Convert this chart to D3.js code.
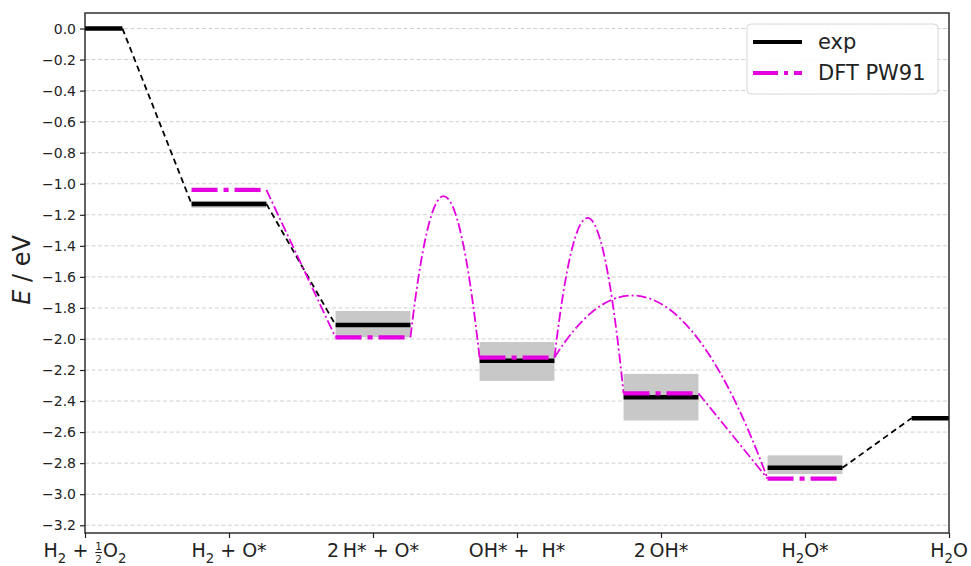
<!DOCTYPE html>
<html>
<head>
<meta charset="utf-8">
<script src="https://cdn.jsdelivr.net/npm/d3@7"></script>
<style>
  html, body { margin: 0; padding: 0; background: #fff; }
  svg { display: block; font-family: "DejaVu Sans", sans-serif; }
</style>
</head>
<body>
<svg id="chart" width="971" height="566"></svg>
<script>
// Reaction stages along the x axis (label parts: plain text, subscripts, fractions)
const stageLabels = [
  [{t: "H"}, {t: "2", k: "sub"}, {t: " + "}, {n: "1", d: "2", k: "frac"}, {t: "O"}, {t: "2", k: "sub"}],
  [{t: "H"}, {t: "2", k: "sub"}, {t: " + O*"}],
  [{t: "2\u2009H* + O*"}],
  [{t: "OH* +  H*"}],
  [{t: "2\u2009OH*"}],
  [{t: "H"}, {t: "2", k: "sub"}, {t: "O*"}],
  [{t: "H"}, {t: "2", k: "sub"}, {t: "O"}]
];
const stageX = [0, 1, 2, 3, 4, 5, 6];

// Experimental energies (eV) and their uncertainty bands
const expEnergy = [0.00, -1.13, -1.91, -2.14, -2.375, -2.83, -2.51];
const expLow    = [null, -1.155, -1.99, -2.27, -2.525, -2.87, null];
const expHigh   = [null, -1.11, -1.82, -2.02, -2.225, -2.75, null];

// DFT (PW91) energies (eV)
const dftEnergy = [null, -1.04, -1.99, -2.12, -2.35, -2.90, null];

// Connections between stages
const expLinks = [[0, 1], [1, 2], [5, 6]];
const dftLinks = [[1, 2], [4, 5]];
// Barriers: start stage, end stage, position and energy of the transition state
const dftBarriers = [
  {from: 2, to: 3, peakX: 2.49, peakE: -1.08},
  {from: 3, to: 4, peakX: 3.49, peakE: -1.22},
  {from: 3, to: 5, peakX: 3.80, peakE: -1.72}
];

const yTickValues = [0.0, -0.2, -0.4, -0.6, -0.8, -1.0, -1.2, -1.4, -1.6, -1.8,
                     -2.0, -2.2, -2.4, -2.6, -2.8, -3.0, -3.2];

const halfWidth = 0.26;

const svg = d3.select("#chart");
const margin = {left: 85, right: 22, top: 13, bottom: 33};
const W = 971, H = 566;
const x = d3.scaleLinear().domain([0, 6]).range([margin.left, W - margin.right]);
const y = d3.scaleLinear().domain([0.1, -3.25]).range([margin.top, H - margin.bottom]);

const plot = svg.append("g");
svg.append("defs").append("clipPath").attr("id", "clip")
  .append("rect").attr("x", x(0)).attr("y", y(0.1)).attr("width", x(6) - x(0)).attr("height", y(-3.25) - y(0.1));

// Horizontal grid
plot.append("g").selectAll("line").data(yTickValues).join("line")
  .attr("x1", x(0)).attr("x2", x(6))
  .attr("y1", d => y(d)).attr("y2", d => y(d))
  .attr("stroke", "#d0d0d0").attr("stroke-width", 1).attr("stroke-dasharray", "4,2.5");

const layer = plot.append("g").attr("clip-path", "url(#clip)");
const lo = i => Math.max(0, stageX[i] - halfWidth);
const hi = i => Math.min(6, stageX[i] + halfWidth);

// Uncertainty bands
layer.append("g").selectAll("rect")
  .data(stageX.map((s, i) => i).filter(i => expLow[i] !== null))
  .join("rect")
  .attr("x", i => x(lo(i))).attr("width", i => x(hi(i)) - x(lo(i)))
  .attr("y", i => y(expHigh[i])).attr("height", i => y(expLow[i]) - y(expHigh[i]))
  .attr("fill", "#c8c8c8");

// Experimental dashed connectors
layer.append("g").selectAll("line").data(expLinks).join("line")
  .attr("x1", d => x(hi(d[0]))).attr("y1", d => y(expEnergy[d[0]]))
  .attr("x2", d => x(lo(d[1]))).attr("y2", d => y(expEnergy[d[1]]))
  .attr("stroke", "#000").attr("stroke-width", 1.8).attr("stroke-dasharray", "6,4");

// DFT connectors
const thinDashDot = "10,3,2,3";
layer.append("g").selectAll("line").data(dftLinks).join("line")
  .attr("x1", d => x(hi(d[0]))).attr("y1", d => y(dftEnergy[d[0]]))
  .attr("x2", d => x(lo(d[1]))).attr("y2", d => y(dftEnergy[d[1]]))
  .attr("stroke", "#e400e0").attr("stroke-width", 1.8).attr("stroke-dasharray", thinDashDot);

// DFT barriers drawn as two half-parabolas meeting at the transition state
function barrierPath(b) {
  const x0 = x(hi(b.from)), y0 = y(dftEnergy[b.from]);
  const x1 = x(lo(b.to)), y1 = y(dftEnergy[b.to]);
  const xp = x(b.peakX), yp = y(b.peakE);
  const p = d3.path();
  p.moveTo(x0, y0);
  p.quadraticCurveTo((x0 + xp) / 2, yp, xp, yp);
  p.quadraticCurveTo((xp + x1) / 2, yp, x1, y1);
  return p.toString();
}
layer.append("g").selectAll("path").data(dftBarriers).join("path")
  .attr("d", barrierPath)
  .attr("fill", "none").attr("stroke", "#e400e0").attr("stroke-width", 1.8)
  .attr("stroke-dasharray", thinDashDot);

// Experimental levels
layer.append("g").selectAll("line").data(stageX.map((s, i) => i)).join("line")
  .attr("x1", i => x(lo(i))).attr("x2", i => x(hi(i)))
  .attr("y1", i => y(expEnergy[i])).attr("y2", i => y(expEnergy[i]))
  .attr("stroke", "#000").attr("stroke-width", 4.5);

// DFT levels
layer.append("g").selectAll("line")
  .data(stageX.map((s, i) => i).filter(i => dftEnergy[i] !== null)).join("line")
  .attr("x1", i => x(lo(i))).attr("x2", i => x(hi(i)))
  .attr("y1", i => y(dftEnergy[i])).attr("y2", i => y(dftEnergy[i]))
  .attr("stroke", "#e400e0").attr("stroke-width", 4.2)
  .attr("stroke-dasharray", "26,6,5,6");

// Axes
const yAxis = d3.axisLeft(y).tickValues(yTickValues).tickFormat(d3.format(".1f")).tickSize(5).tickPadding(4);
const gy = svg.append("g").attr("transform", `translate(${x(0)},0)`).call(yAxis);
gy.selectAll("text").attr("font-size", 14).attr("fill", "#222").attr("font-family", "DejaVu Sans");
gy.selectAll("line").attr("stroke", "#222").attr("stroke-width", 1.2);
gy.select(".domain").remove();

const xAxis = d3.axisBottom(x).tickValues(stageX).tickFormat("").tickSize(5);
const gx = svg.append("g").attr("transform", `translate(0,${y(-3.25)})`).call(xAxis);
gx.selectAll("line").attr("stroke", "#222").attr("stroke-width", 1.2);
gx.select(".domain").remove();

// Frame
svg.append("rect")
  .attr("x", x(0)).attr("y", y(0.1)).attr("width", x(6) - x(0)).attr("height", y(-3.25) - y(0.1))
  .attr("fill", "none").attr("stroke", "#222").attr("stroke-width", 1.4);

// Stage labels with subscripts and a stacked fraction
const fs = 19;
stageLabels.forEach((parts, i) => {
  const g = svg.append("g").attr("fill", "#222");
  let cx = 0;
  parts.forEach(p => {
    if (p.k === "frac") {
      const f = fs * 0.55;
      const num = g.append("text").attr("x", cx + 1).attr("y", -7).attr("font-size", f).text(p.n);
      const den = g.append("text").attr("x", cx + 1).attr("y", 6).attr("font-size", f).text(p.d);
      const w = Math.max(num.node().getComputedTextLength(), den.node().getComputedTextLength());
      g.append("line").attr("x1", cx + 1).attr("x2", cx + 1 + w).attr("y1", -4.5).attr("y2", -4.5)
        .attr("stroke", "#222").attr("stroke-width", 1);
      cx += w + 2;
    } else if (p.k === "sub") {
      const t = g.append("text").attr("x", cx).attr("y", 5.5).attr("font-size", fs * 0.7).text(p.t);
      cx += t.node().getComputedTextLength();
    } else {
      const t = g.append("text").attr("x", cx).attr("y", 0).attr("font-size", fs)
        .attr("xml:space", "preserve").style("white-space", "pre").text(p.t);
      cx += t.node().getComputedTextLength();
    }
  });
  g.attr("transform", `translate(${x(stageX[i]) - cx / 2},557)`);
});

// Y axis title
const yt = svg.append("text")
  .attr("transform", `translate(30,270) rotate(-90)`)
  .attr("text-anchor", "middle").attr("font-size", 24).attr("fill", "#222");
yt.append("tspan").attr("font-style", "italic").text("E");
yt.append("tspan").text(" / eV");

// Legend
const lg = svg.append("g").attr("transform", "translate(747,24)");
lg.append("rect").attr("width", 191).attr("height", 70).attr("rx", 4)
  .attr("fill", "#fff").attr("fill-opacity", 0.85).attr("stroke", "#d6d6d6").attr("stroke-width", 1);
const legendItems = [
  {name: "exp", color: "#000", dash: null, width: 4},
  {name: "DFT PW91", color: "#e400e0", dash: "25,6,4,6", width: 4}
];
legendItems.forEach((d, i) => {
  const yy = 18 + i * 31;
  lg.append("line").attr("x1", 6).attr("x2", 55).attr("y1", yy).attr("y2", yy)
    .attr("stroke", d.color).attr("stroke-width", d.width)
    .attr("stroke-dasharray", d.dash);
  lg.append("text").attr("x", 71).attr("y", yy + 7).attr("font-size", 21).attr("fill", "#222").text(d.name);
});
</script>
</body>
</html>
